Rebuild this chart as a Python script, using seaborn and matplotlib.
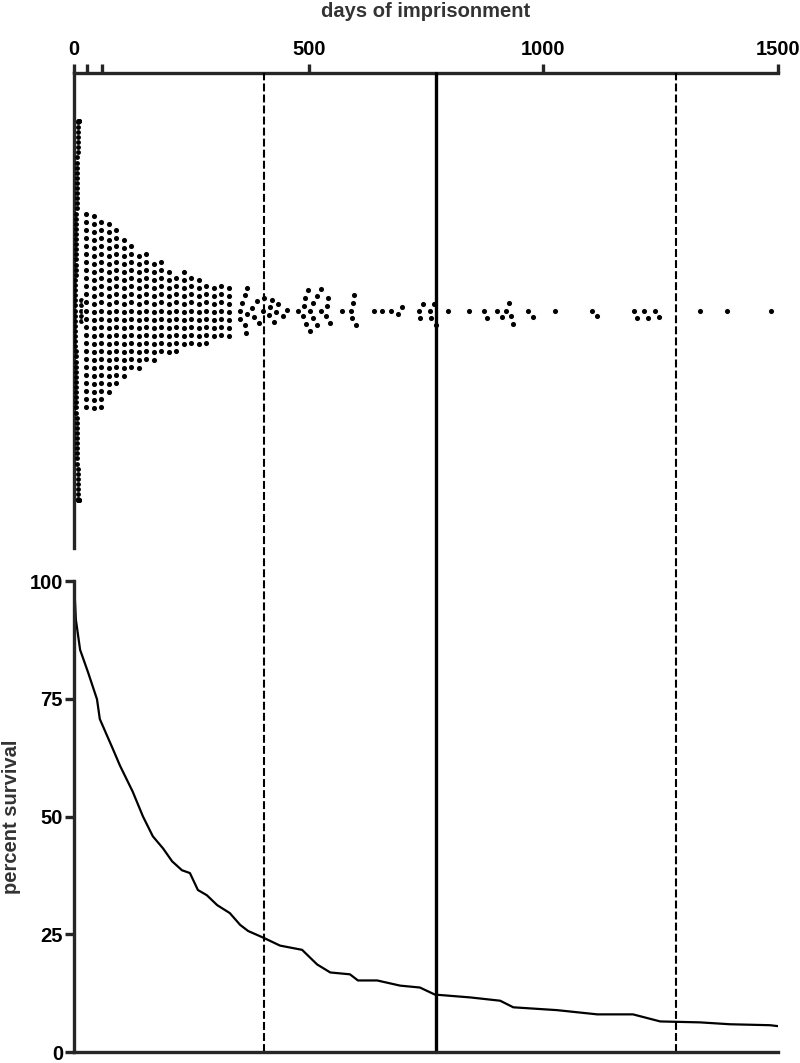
import numpy as np
import matplotlib
matplotlib.use('Agg')
import matplotlib.pyplot as plt
import seaborn as sns

# Data
# days of imprisonment, the dense column that hugs the axis
early_days = [3, 4, 5, 6, 7, 8, 9, 11, 15]
early_counts = [14, 14, 12, 11, 10, 9, 8, 8, 5]

# stacked columns in the dense part of the swarm
col_days = [26, 42, 58, 74, 90, 106, 122, 138, 154, 170, 186, 202, 218, 234,
            250, 266, 282, 298, 314, 330]
col_counts = [25, 25, 24, 22, 20, 18, 16, 15, 14, 13, 12, 11, 10, 10,
              9, 9, 8, 7, 7, 7]

# single dots further out
tail_days = [354, 354, 358, 364, 364, 367, 369, 369, 380, 384, 390, 394, 403, 405,
             416, 418, 422, 426, 431, 435, 445, 454,
             477, 488, 490, 492, 494, 499, 503, 503, 509, 509, 518, 518, 526, 526,
             537, 539, 541, 546,
             571, 590, 593, 595, 597, 601,
             639, 656, 675, 690, 699,
             735, 737, 744, 759, 761, 767, 771,
             797, 842, 873, 880, 902, 911, 920, 927, 931, 935,
             968, 977, 1025, 1104, 1115,
             1194, 1199, 1215, 1222, 1237, 1246,
             1334, 1391, 1485]

# survival curve (day, percent)
surv_days = [0, 4, 13, 30, 49, 55, 83, 98, 125, 147, 168, 190, 209, 230, 247, 264,
             283, 305, 332, 354, 371, 403, 439, 486, 518, 546, 588, 605, 646, 695,
             737, 769, 844, 908, 936, 1029, 1115, 1191, 1249, 1334, 1398, 1483, 1500]
surv_pct = [100, 91.8, 85.4, 80.6, 74.9, 70.7, 64.3, 60.8, 55.3, 50.0, 45.8, 43.2,
            40.5, 38.6, 38.0, 34.4, 33.3, 31.2, 29.5, 27.0, 25.7, 24.3, 22.6, 21.7,
            18.6, 16.9, 16.5, 15.2, 15.2, 14.1, 13.7, 12.2, 11.6, 10.9, 9.5, 8.9,
            8.0, 8.0, 6.5, 6.3, 5.9, 5.7, 5.5]

# reference lines (days)
cut_days = [405, 771, 1283]

sns.set_style('ticks')
plt.rcParams['font.family'] = ['Liberation Sans', 'DejaVu Sans']
plt.rcParams['font.weight'] = 'bold'

fig = plt.figure(figsize=(8, 10.63), dpi=100)
ax1 = fig.add_axes([0.0925, 0.4845, 0.88, 0.4468])
ax2 = fig.add_axes([0.0925, 0.0103, 0.88, 0.4431])
ax2.patch.set_alpha(0)

early = np.repeat(early_days, early_counts)
body = np.concatenate([np.repeat(col_days, col_counts), tail_days])

# top: swarm of days
sns.swarmplot(x=early, ax=ax1, color='black', size=3.5, linewidth=0)
sns.swarmplot(x=body, ax=ax1, color='black', size=4.6, linewidth=0.9,
              edgecolor='white')
ax1.set_xlim(0, 1500)
ax1.set_ylim(0.5, -0.5)
ax1.set_yticks([])
ax1.set_ylabel('')
ax1.xaxis.tick_top()
ax1.xaxis.set_label_position('top')
ax1.set_xticks([0, 28, 60, 500, 1000, 1500])
ax1.set_xticklabels(['0', '', '', '500', '1000', '1500'])
ax1.spines['bottom'].set_visible(False)
ax1.spines['right'].set_visible(False)
for s in ['top', 'left']:
    ax1.spines[s].set_linewidth(2.4)
ax1.tick_params(axis='x', length=6.5, width=2.4, pad=3.5, labelsize=14.5,
                labelcolor='black')
ax1.set_xlabel('days of imprisonment', fontsize=14.5, fontweight='bold',
               color='#333333', labelpad=17)

# bottom: survival curve
sns.lineplot(x=surv_days, y=surv_pct, ax=ax2, color='black', linewidth=1.6)
ax2.set_xlim(0, 1500)
ax2.set_ylim(0, 100)
ax2.set_xticks([])
ax2.set_yticks([0, 25, 50, 75, 100])
ax2.spines['top'].set_visible(False)
ax2.spines['right'].set_visible(False)
for s in ['bottom', 'left']:
    ax2.spines[s].set_linewidth(2.4)
ax2.tick_params(axis='y', length=6.5, width=2.4, pad=1.5, labelsize=14.5,
                labelcolor='black')
ax2.set_ylabel('percent survival', fontsize=14.5, fontweight='bold',
               color='#333333', labelpad=6)

# vertical lines through both panels
p1 = ax1.get_position()
p2 = ax2.get_position()
span = (p1.y1 - p2.y0) / p2.height
ax2.axvline(cut_days[0], 0, span, color='black', lw=1.5,
            linestyle=(0, (3.8, 1.5)), clip_on=False)
ax2.axvline(cut_days[1], 0, span, color='black', lw=2.4, clip_on=False)
ax2.axvline(cut_days[2], 0, span, color='black', lw=1.5,
            linestyle=(0, (3.8, 1.5)), clip_on=False)

fig.savefig('out.png', dpi=100)
